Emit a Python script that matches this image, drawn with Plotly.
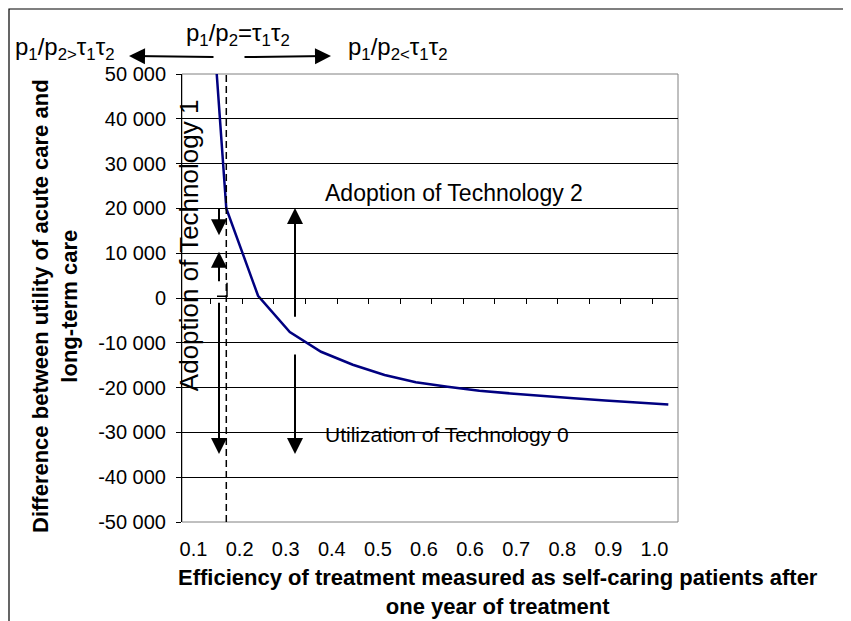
import plotly.graph_objects as go

# ---------------- data ----------------
efficiency = [0.103, 0.164, 0.226, 0.288, 0.349, 0.411, 0.473, 0.534,
              0.596, 0.658, 0.719, 0.781, 0.842, 0.904, 0.966, 1.027]
utility_difference = [118000, 20000, 500, -7600, -12000, -14900, -17200, -18800,
                      -19800, -20700, -21300, -21900, -22400, -22900, -23400, -23800]
x_tick_values = [0.10, 0.19, 0.28, 0.37, 0.46, 0.55, 0.64, 0.73, 0.82, 0.91, 1.00]
x_tick_labels = ["0.1", "0.2", "0.3", "0.4", "0.5", "0.6", "0.6", "0.7", "0.8", "0.9", "1.0"]
y_tick_values = [-50000, -40000, -30000, -20000, -10000, 0, 10000, 20000, 30000, 40000, 50000]
y_tick_labels = ["-50 000", "-40 000", "-30 000", "-20 000", "-10 000", "0",
                 "10 000", "20 000", "30 000", "40 000", "50 000"]
threshold_efficiency = efficiency[1]  # p1/p2 = tau1*tau2
x_range = [0.0775, 1.0459]

# ---------------- layout geometry ----------------
W, H = 851, 621
OFF = 7
L, T = 181 - OFF, 73 - OFF
PW, PH = 496, 448
R, B = W - L - PW, H - T - PH
FONT = "Liberation Sans, Arial, sans-serif"


def px_x(p):  # reference pixel -> paper x
    return (p - OFF - L) / PW


def px_y(p):  # reference pixel -> paper y
    return (T + PH - (p - OFF)) / PH


def xval(p):  # reference pixel -> data x
    return x_range[0] + (p - OFF - L) / PW * (x_range[1] - x_range[0])


fig = go.Figure()
fig.add_trace(go.Scatter(x=efficiency, y=utility_difference, mode="lines",
                         line=dict(color="#000080", width=2.5),
                         showlegend=False, hoverinfo="skip"))
# helper trace so the axis through zero is drawn
fig.add_trace(go.Scatter(x=[efficiency[0]], y=[0], xaxis="x2", mode="markers",
                         marker=dict(opacity=0), showlegend=False, hoverinfo="skip"))

# minor tick marks on the zero line, between data points
step = (efficiency[-1] - efficiency[0]) / (len(efficiency) - 1)
minor_ticks = [efficiency[0] - step / 2 + k * step for k in range(len(efficiency) + 1)]

fig.update_layout(
    width=W, height=H,
    margin=dict(l=L, r=R, t=T, b=B),
    paper_bgcolor="white", plot_bgcolor="white",
    font=dict(family=FONT, color="black", size=20),
    xaxis=dict(range=x_range, tickmode="array",
               tickvals=x_tick_values, ticktext=x_tick_labels,
               showgrid=False, zeroline=False, ticks="", showline=False,
               ticklabelstandoff=13, tickfont=dict(size=20)),
    xaxis2=dict(overlaying="x", anchor="free", position=0.5,
                range=x_range, tickmode="array", tickvals=minor_ticks,
                ticks="outside", ticklen=5, tickcolor="black", tickwidth=1,
                showticklabels=False, showline=True, linecolor="black", linewidth=1,
                showgrid=False, zeroline=False),
    yaxis=dict(range=[-50000, 50000], tickmode="array", tickvals=y_tick_values,
               ticktext=y_tick_labels, showgrid=True, gridcolor="black", gridwidth=1,
               zeroline=False, ticks="outside", ticklen=5, tickcolor="black",
               showline=True, linecolor="black", linewidth=1,
               tickfont=dict(size=20), ticklabelstandoff=6),
)

shapes = []
shapes.append(dict(type="rect", xref="paper", yref="paper", x0=0, x1=1, y0=0, y1=1,
                   line=dict(color="#808080", width=1), layer="below"))
# outer chart border: only the left and top edges are inside the picture
fx0 = -(L - 1) / PW
fy0 = -(B + 10) / PH
fy1 = 1 + (T - 1) / PH
fx1 = (W + 10 - L) / PW
shapes.append(dict(type="path", xref="paper", yref="paper",
                   path=f"M {fx0},{fy0} L {fx0},{fy1} L {fx1},{fy1}",
                   line=dict(color="black", width=1.2)))
shapes.append(dict(type="line", xref="x", yref="y",
                   x0=threshold_efficiency, x1=threshold_efficiency,
                   y0=-50000, y1=50000, line=dict(color="black", width=1.5, dash="7px,4px")))
shapes.append(dict(type="path", xref="x", yref="y",
                   path=f"M {xval(226)},3400 L {xval(226)},400 L {xval(216)},400",
                   line=dict(color="black", width=1.5)))
fig.update_layout(shapes=shapes)

ann = []


def arrow(x, y_tail, y_head):
    ann.append(dict(x=x, y=y_head, ax=x, ay=y_tail, xref="x", yref="y",
                    axref="x", ayref="y", showarrow=True, text="",
                    arrowhead=2, arrowsize=1.6, arrowwidth=2, arrowcolor="black"))


a1 = xval(218)
arrow(a1, 20300, 14000)
arrow(a1, 3400, 10300)
arrow(a1, -700, -34800)
a2 = xval(294)
arrow(a2, -4500, 20100)
arrow(a2, -12300, -34800)

ann.append(dict(x=xval(322), y=23400, xref="x", yref="y", text="Adoption of Technology 2",
                showarrow=False, xanchor="left", yanchor="middle", font=dict(size=23)))
ann.append(dict(x=xval(322), y=-30400, xref="x", yref="y", text="Utilization of Technology 0",
                showarrow=False, xanchor="left", yanchor="middle", font=dict(size=21)))
ann.append(dict(x=xval(188), y=11800, xref="x", yref="y", text="Adoption of Technology 1",
                textangle=-90, showarrow=False, xanchor="center", yanchor="middle",
                font=dict(size=26)))

# top relation labels and arrows
ann.append(dict(x=xval(237), y=px_y(33), xref="x", yref="paper",
                text="p<sub>1</sub>/p<sub>2</sub>=τ<sub>1</sub>τ<sub>2</sub>",
                showarrow=False, xanchor="center", yanchor="middle", font=dict(size=24)))
ann.append(dict(x=px_x(12), y=px_y(47), xref="paper", yref="paper",
                text="p<sub>1</sub>/p<sub>2&gt;</sub>τ<sub>1</sub>τ<sub>2</sub>",
                showarrow=False, xanchor="left", yanchor="middle", font=dict(size=24)))
ann.append(dict(x=xval(345), y=px_y(47), xref="x", yref="paper",
                text="p<sub>1</sub>/p<sub>2&lt;</sub>τ<sub>1</sub>τ<sub>2</sub>",
                showarrow=False, xanchor="left", yanchor="middle", font=dict(size=24)))
ann.append(dict(x=xval(128), y=px_y(55), ax=xval(214), ay=px_y(55),
                xref="x", yref="paper", axref="x", ayref="y domain", showarrow=True, text="",
                arrowhead=2, arrowsize=1.6, arrowwidth=2, arrowcolor="black"))
ann.append(dict(x=xval(330), y=px_y(55), ax=xval(242), ay=px_y(55),
                xref="x", yref="paper", axref="x", ayref="y domain", showarrow=True, text="",
                arrowhead=2, arrowsize=1.6, arrowwidth=2, arrowcolor="black"))

# axis titles
ann.append(dict(x=px_x(497), y=px_y(591), xref="paper", yref="paper",
                text="<b>Efficiency of treatment measured as self-caring patients after<br>one year of treatment</b>",
                showarrow=False, xanchor="center", yanchor="middle", font=dict(size=22)))
ann.append(dict(x=px_x(54), y=px_y(305), xref="paper", yref="paper",
                text="<b>Difference between utility of acute care and<br>long-term care</b>",
                textangle=-90, showarrow=False, xanchor="center", yanchor="middle",
                font=dict(size=22)))
fig.update_layout(annotations=ann)

fig.write_html("out.html")
